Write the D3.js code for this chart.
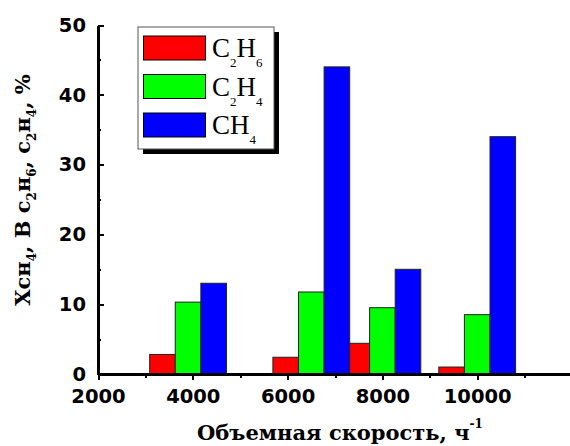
<!DOCTYPE html>
<html>
<head>
<meta charset="utf-8">
<script src="https://cdn.jsdelivr.net/npm/d3@7"></script>
<style>
  body { margin: 0; background: #fff; }
  svg { display: block; }
</style>
</head>
<body>
<div id="chart"></div>
<script>
// Объемная скорость (ч-1) и выходы, %
const speeds = [3900, 6500, 8000, 10000];
const c2h6 = [2.8, 2.4, 4.4, 1.0];
const c2h4 = [10.3, 11.75, 9.5, 8.5];
const ch4 = [13.0, 44.0, 15.0, 34.0];
const xMajor = [2000, 4000, 6000, 8000, 10000];
const xMinor = [3000, 5000, 7000, 9000, 11000];
const yMajor = [0, 10, 20, 30, 40, 50];
const yMinor = [5, 15, 25, 35, 45];

const series = [
    { name: "C", sub1: "2", mid: "H", sub2: "6", values: c2h6, color: "#ff0000", shift: -1 },
    { name: "C", sub1: "2", mid: "H", sub2: "4", values: c2h4, color: "#00ff00", shift: 0 },
    { name: "C", sub1: "", mid: "H", sub2: "4", values: ch4, color: "#0000ff", shift: 1 }
];

function renderChart() {
    const width = 570;
    const height = 446;
    const barW = 540;   // ширина столбца в единицах оси x

    const svg = d3.select("#chart").append("svg")
        .attr("width", width)
        .attr("height", height);

    const x = d3.scaleLinear().domain([2000, 12000]).range([98, 572]);
    const y = d3.scaleLinear().domain([0, 50]).range([374, 25]);

    // столбцы
    series.forEach(s => {
        svg.append("g")
            .selectAll("rect")
            .data(speeds.map((v, i) => ({ x: v + s.shift * barW, v: s.values[i] })))
            .enter()
            .append("rect")
            .attr("x", d => x(d.x - barW / 2))
            .attr("y", d => y(d.v))
            .attr("width", d => x(d.x + barW / 2) - x(d.x - barW / 2))
            .attr("height", d => y(0) - y(d.v))
            .attr("fill", s.color)
            .attr("stroke", "#222")
            .attr("stroke-width", 1);
    });

    // оси
    const fontAxis = "DejaVu Sans, sans-serif";
    const fmt = d3.format("d");

    svg.append("g")
        .attr("transform", `translate(0,${y(0)})`)
        .call(d3.axisBottom(x).tickValues(xMajor).tickFormat(fmt).tickSize(6).tickPadding(9).tickSizeOuter(0));
    svg.append("g")
        .attr("transform", `translate(0,${y(0)})`)
        .call(d3.axisBottom(x).tickValues(xMinor).tickSize(4).tickFormat("").tickSizeOuter(0));

    svg.append("g")
        .attr("transform", `translate(${x(2000)},0)`)
        .call(d3.axisLeft(y).tickValues(yMajor).tickFormat(fmt).tickSize(-6).tickPadding(12).tickSizeOuter(0));
    svg.append("g")
        .attr("transform", `translate(${x(2000)},0)`)
        .call(d3.axisLeft(y).tickValues(yMinor).tickSize(-3).tickFormat("").tickSizeOuter(0));

    svg.selectAll(".domain")
        .attr("stroke", "#000").attr("stroke-width", 2.5)
        .attr("shape-rendering", "crispEdges");
    svg.selectAll(".tick line")
        .attr("stroke", "#000").attr("stroke-width", 2)
        .attr("shape-rendering", "crispEdges");
    svg.selectAll(".tick text")
        .attr("font-family", fontAxis)
        .attr("font-weight", "bold")
        .attr("font-size", 19.5)
        .attr("fill", "#000");

    // подписи осей
    const fontLabel = "DejaVu Serif, serif";

    const xl = svg.append("text")
        .attr("x", 340)
        .attr("y", 440)
        .attr("text-anchor", "middle")
        .attr("font-family", fontLabel)
        .attr("font-weight", "bold")
        .attr("font-size", 21);
    xl.append("tspan").text("Объемная скорость, ч");
    xl.append("tspan").attr("dy", -12).attr("font-size", 12).text("-1");

    const yl = svg.append("text")
        .attr("transform", "translate(30,190) rotate(-90)")
        .attr("text-anchor", "middle")
        .attr("font-family", fontLabel)
        .attr("font-weight", "bold")
        .attr("font-size", 21);
    yl.append("tspan").text("Хсн");
    yl.append("tspan").attr("dy", 6).attr("font-size", 12).text("4");
    yl.append("tspan").attr("dy", -6).text(", В с");
    yl.append("tspan").attr("dy", 6).attr("font-size", 12).text("2");
    yl.append("tspan").attr("dy", -6).text("н");
    yl.append("tspan").attr("dy", 6).attr("font-size", 12).text("6");
    yl.append("tspan").attr("dy", -6).text(", с");
    yl.append("tspan").attr("dy", 6).attr("font-size", 12).text("2");
    yl.append("tspan").attr("dy", -6).text("н");
    yl.append("tspan").attr("dy", 6).attr("font-size", 12).text("4");
    yl.append("tspan").attr("dy", -6).text(", %");

    // легенда
    const lg = svg.append("g");
    lg.append("rect")
        .attr("x", 143).attr("y", 32).attr("width", 136).attr("height", 122)
        .attr("fill", "#000");
    lg.append("rect")
        .attr("x", 138).attr("y", 27).attr("width", 136).attr("height", 122)
        .attr("fill", "#fff").attr("stroke", "#555").attr("stroke-width", 1);

    series.forEach((s, i) => {
        const top = 36 + i * 38.5;
        lg.append("rect")
            .attr("x", 143.5).attr("y", top)
            .attr("width", 62).attr("height", 24)
            .attr("fill", s.color).attr("stroke", "#000").attr("stroke-width", 1);
        const t = lg.append("text")
            .attr("x", 212)
            .attr("y", top + 21)
            .attr("font-family", "Liberation Serif, serif")
            .attr("font-size", 27)
            .attr("fill", "#000");
        t.append("tspan").text(s.name);
        if (s.sub1) t.append("tspan").attr("dy", 10).attr("font-size", 13).text(s.sub1);
        t.append("tspan").attr("dy", s.sub1 ? -10 : 0).text(s.mid);
        t.append("tspan").attr("dy", 10).attr("font-size", 13).text(s.sub2);
    });
}

renderChart();
</script>
</body>
</html>
